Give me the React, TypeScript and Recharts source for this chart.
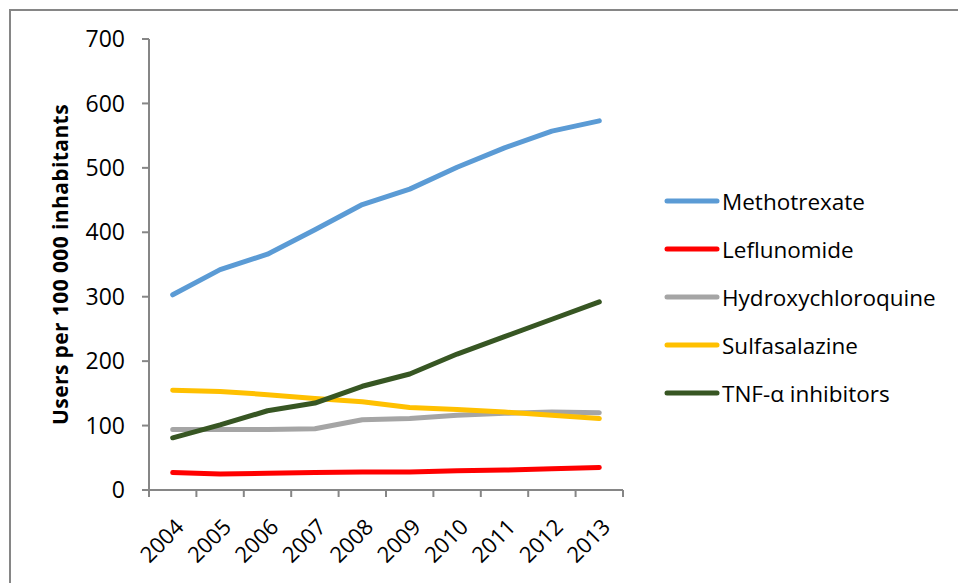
import React from "react";
import { LineChart, Line, XAxis, YAxis, Label } from "recharts";

const years = ["2004", "2005", "2006", "2007", "2008", "2009", "2010", "2011", "2012", "2013"];
const methotrexate = [303, 342, 366, 404, 443, 467, 501, 531, 557, 573];
const leflunomide = [27, 25, 26, 27, 28, 28, 30, 31, 33, 35];
const hydroxychloroquine = [94, 94, 94, 95, 109, 111, 116, 119, 121, 120];
const sulfasalazine = [155, 153, 148, 142, 137, 128, 125, 121, 116, 111];
const tnfInhibitors = [81, 101, 123, 135, 161, 180, 211, 238, 265, 292];
const yTicks = [0, 100, 200, 300, 400, 500, 600, 700];
// category boundaries for the tick marks between years
const slotEdges = [0, 1, 2, 3, 4, 5, 6, 7, 8, 9, 10];

const series = [
  { key: "mtx", name: "Methotrexate", color: "#5B9BD5", values: methotrexate },
  { key: "lef", name: "Leflunomide", color: "#FF0000", values: leflunomide },
  { key: "hcq", name: "Hydroxychloroquine", color: "#A5A5A5", values: hydroxychloroquine },
  { key: "ssz", name: "Sulfasalazine", color: "#FFC000", values: sulfasalazine },
  { key: "tnf", name: "TNF-α inhibitors", color: "#375623", values: tnfInhibitors },
];

const data = years.map((year, i) => {
  const row: Record<string, string | number> = { year, slot: i + 0.5 };
  series.forEach((s) => {
    row[s.key] = s.values[i];
  });
  return row;
});

const FONT = "'Open Sans', sans-serif";
const AXIS = "#868686";

function YearTick({ x, y, payload }: any) {
  return (
    <g transform={`translate(${x + 7},${y + 32})`}>
      <text textAnchor="end" dy="0.35em" transform="rotate(-45)" fontSize={22} fill="#000" fontFamily={FONT}>
        {payload.value}
      </text>
    </g>
  );
}

function SideLegend() {
  return (
    <div style={{ position: "absolute", left: 664, top: 177, fontFamily: FONT, fontSize: 22.5 }}>
      {series.map((s) => (
        <div key={s.key} style={{ display: "flex", alignItems: "center", height: 48 }}>
          <svg width={58} height={10}>
            <line x1={3} y1={5} x2={53} y2={5} stroke={s.color} strokeWidth={5} strokeLinecap="round" />
          </svg>
          <span style={{ color: "#000" }}>{s.name}</span>
        </div>
      ))}
    </div>
  );
}

export default function App() {
  return (
    <div style={{ position: "absolute", left: 0, top: 0, width: 958, height: 583, background: "#fff", overflow: "hidden", fontFamily: FONT }}>
      <div style={{ position: "absolute", left: 9, top: 9, width: 960, height: 600, borderTop: `2px solid ${AXIS}`, borderLeft: `2px solid ${AXIS}` }} />
      <LineChart width={958} height={583} data={data} margin={{ top: 39, right: 335, bottom: 0, left: 0 }}>
        <XAxis
          xAxisId="edges"
          dataKey="slot"
          type="number"
          domain={[0, 10]}
          ticks={slotEdges}
          interval={0}
          allowDataOverflow
          height={1}
          tickFormatter={() => ""}
          tickSize={7}
          tickMargin={0}
          stroke={AXIS}
          strokeWidth={2}
        />
        <XAxis
          xAxisId="years"
          dataKey="year"
          scale="point"
          padding={{ left: 23.7, right: 23.7 }}
          height={92}
          axisLine={false}
          tickLine={false}
          tickSize={0}
          tickMargin={0}
          interval={0}
          tick={<YearTick />}
        />
        <YAxis
          width={149}
          domain={[0, 700]}
          ticks={yTicks}
          interval={0}
          tickSize={7}
          tickMargin={17}
          stroke={AXIS}
          strokeWidth={2}
          tick={{ fill: "#000", fontSize: 23, fontFamily: FONT }}
        >
          <Label
            value="Users per 100 000 inhabitants"
            angle={-90}
            position="insideLeft"
            offset={61}
            style={{ textAnchor: "middle", fontWeight: 700, fontSize: 21, letterSpacing: 0.4, fill: "#000", fontFamily: FONT }}
          />
        </YAxis>
        {series.map((s) => (
          <Line
            key={s.key}
            xAxisId="years"
            dataKey={s.key}
            name={s.name}
            stroke={s.color}
            strokeWidth={5}
            strokeLinecap="round"
            strokeLinejoin="round"
            dot={false}
            activeDot={false}
            isAnimationActive={false}
          />
        ))}
      </LineChart>
      <SideLegend />
    </div>
  );
}
